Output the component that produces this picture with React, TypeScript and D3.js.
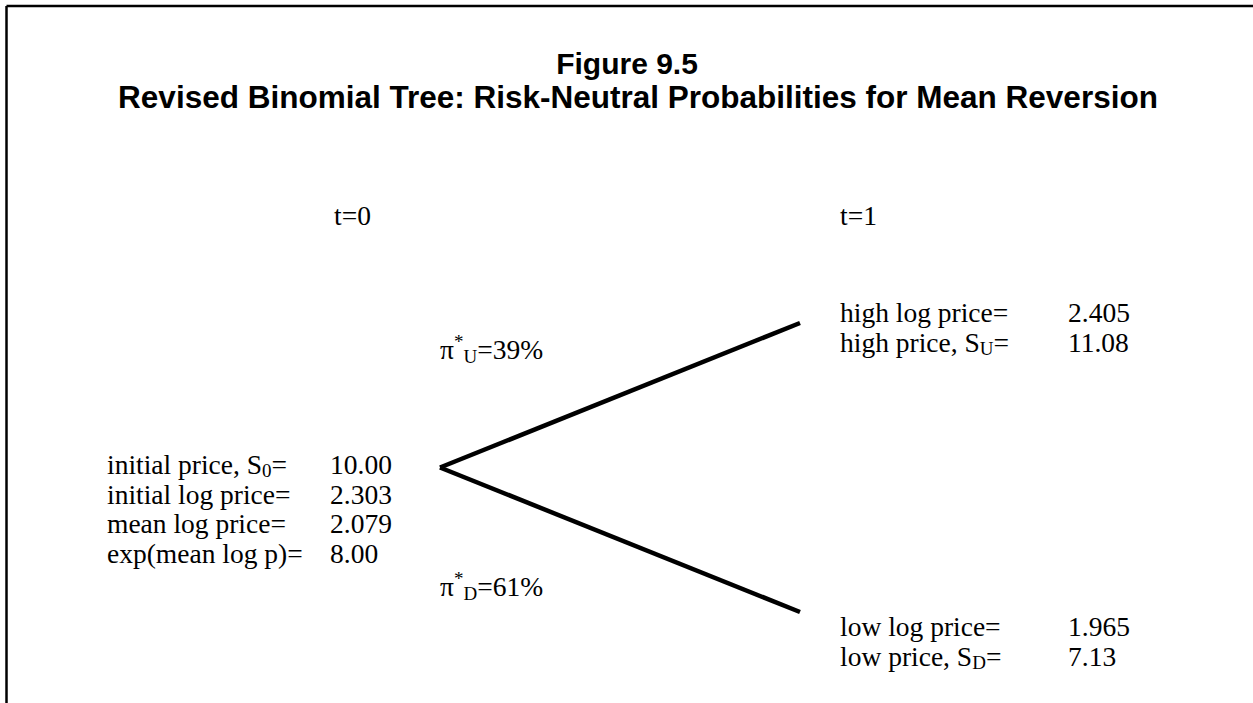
import React from 'react';
import * as d3 from 'd3';

const W = 1253;
const H = 703;

const titleLines = ['Figure 9.5', 'Revised Binomial Tree: Risk-Neutral Probabilities for Mean Reversion'];
const timeLabels = ['t=0', 't=1'];

// left block: label, subscript, rest of label, value
const initialRows = [
  { label: 'initial price, S', sub: '0', after: '=', value: '10.00' },
  { label: 'initial log price=', sub: '', after: '', value: '2.303' },
  { label: 'mean log price=', sub: '', after: '', value: '2.079' },
  { label: 'exp(mean log p)=', sub: '', after: '', value: '8.00' },
];
const upRows = [
  { label: 'high log price=', sub: '', after: '', value: '2.405' },
  { label: 'high price, S', sub: 'U', after: '=', value: '11.08' },
];
const downRows = [
  { label: 'low log price=', sub: '', after: '', value: '1.965' },
  { label: 'low price, S', sub: 'D', after: '=', value: '7.13' },
];
const probabilities = [
  { state: 'U', pct: 39 },
  { state: 'D', pct: 61 },
];

// tree nodes: time step and state (-1 down, 0 start, 1 up)
const branches = [
  { from: [0, 0], to: [1, 1] },
  { from: [0, 0], to: [1, -1] },
];

const serif = '"Liberation Serif", "Times New Roman", serif';
const sans = '"Liberation Sans", Arial, sans-serif';
const FS = 27.5;
const SUB = 19;

type Row = { label: string; sub: string; after: string; value: string };

const Block: React.FC<{ rows: Row[]; x: number; vx: number; y: number; step: number }> = ({ rows, x, vx, y, step }) => (
  <g fontFamily={serif} fontSize={FS} fill="#000">
    {rows.map((r, i) => (
      <g key={i}>
        <text x={x} y={y + i * step}>
          {r.label}
          {r.sub && (
            <tspan fontSize={SUB} dy={3}>
              {r.sub}
            </tspan>
          )}
          {r.after && <tspan dy={r.sub ? -3 : 0}>{r.after}</tspan>}
        </text>
        <text x={vx} y={y + i * step}>
          {r.value}
        </text>
      </g>
    ))}
  </g>
);

const App: React.FC = () => {
  const xScale = d3.scaleLinear().domain([0, 1]).range([440, 800]);
  const yScale = d3.scaleLinear().domain([-1, 1]).range([612, 323]);
  const line = d3
    .line<number[]>()
    .x((d) => xScale(d[0]))
    .y((d) => yScale(d[1]));

  return (
    <svg
      width={W}
      height={H}
      style={{ position: 'absolute', left: 0, top: 0, background: '#fff' }}
    >
      <rect x={0} y={0} width={W} height={H} fill="#fff" />
      {/* frame: top and left edges only */}
      <line x1={6.5} y1={6} x2={W} y2={6} stroke="#000" strokeWidth={2.5} />
      <line x1={6.5} y1={6} x2={6.5} y2={H} stroke="#000" strokeWidth={2.5} />

      <g fontFamily={sans} fontWeight="bold" textAnchor="middle">
        <text x={627} y={74} fontSize={30}>
          {titleLines[0]}
        </text>
        <text x={638} y={108} fontSize={31.5}>
          {titleLines[1]}
        </text>
      </g>

      <g fontFamily={serif} fontSize={FS}>
        {timeLabels.map((t, i) => (
          <text key={t} x={i === 0 ? 334 : 840} y={225}>
            {t}
          </text>
        ))}
      </g>

      {branches.map((b, i) => (
        <path
          key={i}
          d={line([b.from, b.to]) || ''}
          stroke="#000"
          strokeWidth={4.5}
          fill="none"
          strokeLinecap="butt"
        />
      ))}

      <g fontFamily={serif} fontSize={FS}>
        {probabilities.map((p) => (
          <text key={p.state} x={440} y={p.state === 'U' ? 359 : 596}>
            π
            <tspan fontSize={SUB} dy={-11}>
              *
            </tspan>
            <tspan fontSize={SUB} dy={15}>
              {p.state}
            </tspan>
            <tspan dy={-4}>={p.pct}%</tspan>
          </text>
        ))}
      </g>

      <Block rows={initialRows} x={107} vx={330} y={474} step={29.5} />
      <Block rows={upRows} x={840} vx={1068} y={322} step={30} />
      <Block rows={downRows} x={840} vx={1068} y={636} step={30} />
    </svg>
  );
};

export default App;
